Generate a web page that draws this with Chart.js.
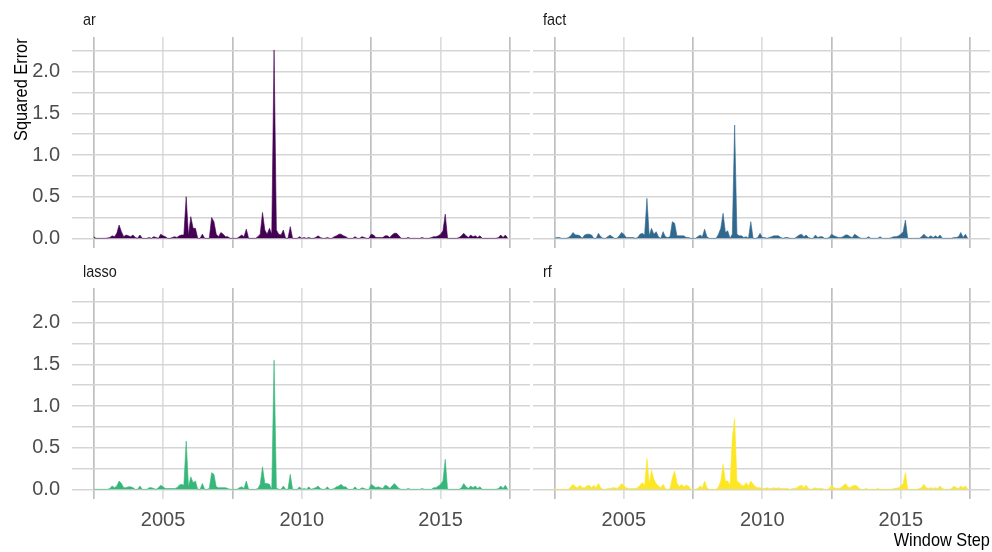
<!DOCTYPE html>
<html>
<head>
<meta charset="utf-8">
<script src="https://cdn.jsdelivr.net/npm/chart.js@4/dist/chart.umd.min.js"></script>
<style>
  html, body { margin: 0; padding: 0; background: #ffffff; }
  #wrap { position: relative; width: 992px; height: 552px; overflow: hidden; background: #ffffff; }
  #wrap canvas { position: absolute; left: 0; top: 0; }
  .lbl { position: absolute; white-space: nowrap; font-family: 'Liberation Sans', Arial, sans-serif; }
  .strip { font-size: 17px; line-height: 17px; color: #1a1a1a; transform-origin: 0 0; transform: scaleX(0.85); }
  .axtitle { font-size: 19px; line-height: 19px; color: #000000; }
</style>
</head>
<body>
<div id="wrap">
  <canvas id="c-ar" width="992" height="552"></canvas>
  <canvas id="c-fact" width="992" height="552"></canvas>
  <canvas id="c-lasso" width="992" height="552"></canvas>
  <canvas id="c-rf" width="992" height="552"></canvas>
  <div class="lbl strip" style="left:83px; top:11px;">ar</div>
  <div class="lbl strip" style="left:543px; top:11px;">fact</div>
  <div class="lbl strip" style="left:83px; top:263px;">lasso</div>
  <div class="lbl strip" style="left:543px; top:263px;">rf</div>
  <div class="lbl axtitle" style="left:11px; top:141px; transform-origin:0 0; transform:rotate(-90deg) scaleX(0.86);">Squared Error</div>
  <div class="lbl axtitle" style="right:2px; top:530px; transform-origin:100% 0; transform:scaleX(0.86);">Window Step</div>
</div>
<script>
// Monthly window steps, starting July 2002
const firstStep = 2002.5;
const stepCount = 180;
const windowSteps = Array.from({ length: stepCount }, (_, i) => firstStep + i / 12);

// Axis breaks
const xBreaks = [2002.5, 2005, 2007.5, 2010, 2012.5, 2015, 2017.5];
const xLabelled = [2005, 2010, 2015];
const yBreaks = [0, 0.25, 0.5, 0.75, 1, 1.25, 1.5, 1.75, 2, 2.25];
const yLabelled = [0, 0.5, 1, 1.5, 2];

// Squared forecast error per model
const arErr = [
  0.02, 0, 0, 0, 0, 0, 0.005, 0.01, 0.03, 0.02,
  0.06, 0.16, 0.08, 0.02, 0.04, 0.03, 0.02, 0.04, 0.01, 0,
  0.04, 0, 0, 0, 0.01, 0, 0.02, 0.01, 0, 0.05,
  0.03, 0.02, 0, 0, 0.01, 0.02, 0.01, 0.03, 0.04, 0.04,
  0.5, 0.03, 0.26, 0.12, 0.12, 0, 0, 0.05, 0, 0,
  0, 0.25, 0.2, 0.05, 0.02, 0.07, 0.05, 0.02, 0.02, 0,
  0, 0, 0, 0.02, 0.04, 0.02, 0.11, 0, 0, 0,
  0, 0.02, 0.05, 0.31, 0.1, 0.05, 0.12, 0.05, 2.26, 0.1,
  0.05, 0.04, 0.1, 0, 0, 0.14, 0, 0, 0, 0.02,
  0, 0.01, 0, 0.01, 0, 0, 0.01, 0.03, 0.01, 0,
  0, 0.01, 0, 0, 0.02, 0.03, 0.05, 0.05, 0.03, 0.02,
  0, 0, 0, 0.02, 0, 0, 0.02, 0.01, 0, 0,
  0.05, 0.04, 0.01, 0.01, 0.01, 0.01, 0.03, 0.03, 0.01, 0.04,
  0.06, 0.06, 0.03, 0, 0, 0, 0.01, 0, 0, 0,
  0, 0, 0.01, 0, 0, 0, 0.01, 0.02, 0.02, 0.03,
  0.05, 0.09, 0.29, 0, 0, 0, 0, 0, 0.01, 0.03,
  0.06, 0.03, 0.01, 0.04, 0.02, 0.03, 0.01, 0.03, 0, 0,
  0, 0, 0, 0, 0, 0.01, 0.04, 0.01, 0.04, 0
];
const factErr = [
  0, 0.01, 0.01, 0, 0, 0, 0.01, 0.03, 0.07, 0.04,
  0.04, 0.03, 0, 0.04, 0.05, 0.05, 0.04, 0, 0, 0.06,
  0.02, 0, 0, 0.02, 0.04, 0.02, 0, 0, 0.03, 0.07,
  0.05, 0.01, 0.01, 0.01, 0.01, 0, 0.01, 0.05, 0.06, 0.04,
  0.48, 0.03, 0.12, 0.05, 0.08, 0.02, 0, 0.08, 0.02, 0.01,
  0.02, 0.2, 0.18, 0.03, 0.03, 0.03, 0.03, 0.01, 0.01, 0,
  0, 0, 0.02, 0.04, 0.02, 0.11, 0.02, 0, 0, 0,
  0, 0.05, 0.12, 0.3, 0.07, 0.09, 0, 0.05, 1.36, 0.05,
  0.03, 0.03, 0.01, 0.02, 0, 0.2, 0, 0, 0.01, 0.06,
  0.01, 0.01, 0, 0.01, 0.02, 0.03, 0.03, 0.03, 0.01, 0,
  0.01, 0.01, 0, 0, 0, 0.02, 0.04, 0.05, 0.02, 0.04,
  0.01, 0, 0, 0.04, 0.01, 0.02, 0.02, 0, 0, 0.01,
  0.05, 0.03, 0.02, 0.01, 0.01, 0.02, 0.04, 0.04, 0.02, 0.01,
  0.05, 0.03, 0.01, 0, 0, 0, 0.02, 0, 0, 0,
  0, 0.02, 0, 0, 0, 0, 0.01, 0.02, 0.02, 0.03,
  0.05, 0.08, 0.22, 0, 0, 0, 0, 0, 0, 0.02,
  0.05, 0.02, 0.01, 0.03, 0.01, 0.03, 0.01, 0.04, 0, 0,
  0, 0, 0, 0.01, 0.01, 0.02, 0.07, 0.01, 0.05, 0
];
const lassoErr = [
  0, 0, 0, 0, 0, 0, 0, 0.01, 0.04, 0.02,
  0.04, 0.1, 0.07, 0.02, 0.02, 0.03, 0.03, 0.02, 0, 0,
  0.04, 0, 0, 0, 0.02, 0.02, 0.01, 0, 0.02, 0.05,
  0.03, 0.01, 0.01, 0.01, 0.01, 0.01, 0.02, 0.05, 0.06, 0.05,
  0.58, 0.03, 0.15, 0.08, 0.1, 0, 0, 0.07, 0, 0,
  0.01, 0.2, 0.18, 0.03, 0.02, 0.02, 0.02, 0.02, 0.01, 0,
  0, 0, 0, 0.02, 0.03, 0.01, 0.1, 0, 0, 0,
  0, 0.01, 0.06, 0.27, 0.07, 0.07, 0.06, 0, 1.55, 0.02,
  0, 0, 0.04, 0, 0, 0.18, 0, 0, 0, 0.03,
  0, 0.01, 0, 0.03, 0, 0.01, 0.02, 0.04, 0.01, 0,
  0, 0.03, 0, 0, 0.01, 0.03, 0.04, 0.06, 0.03, 0.03,
  0, 0, 0, 0.03, 0, 0, 0.02, 0.01, 0, 0,
  0.06, 0.04, 0.02, 0.03, 0.02, 0.01, 0.05, 0.04, 0.01, 0.04,
  0.07, 0.04, 0.01, 0, 0, 0, 0.01, 0, 0, 0,
  0, 0, 0.01, 0, 0, 0, 0, 0.02, 0.02, 0.04,
  0.06, 0.1, 0.36, 0, 0, 0, 0, 0, 0, 0.02,
  0.07, 0.03, 0.01, 0.04, 0.02, 0.04, 0.01, 0.03, 0, 0,
  0, 0, 0, 0, 0, 0.01, 0.04, 0.01, 0.05, 0
];
const rfErr = [
  0.01, 0, 0, 0, 0, 0, 0, 0.03, 0.06, 0.03,
  0.02, 0.05, 0.02, 0.02, 0.04, 0.05, 0.02, 0.05, 0.02, 0.07,
  0.02, 0, 0, 0.01, 0.01, 0.02, 0.02, 0.01, 0.03, 0.07,
  0.04, 0.02, 0.01, 0.01, 0.01, 0.01, 0.02, 0.05, 0.08, 0.04,
  0.37, 0.07, 0.23, 0.12, 0.07, 0.04, 0.02, 0.06, 0.01, 0,
  0.01, 0.14, 0.22, 0.08, 0.03, 0.06, 0.03, 0.05, 0.04, 0,
  0, 0, 0.01, 0.04, 0.02, 0.1, 0.02, 0, 0, 0,
  0, 0.03, 0.1, 0.3, 0.1, 0.1, 0.05, 0.62, 0.85, 0.1,
  0.08, 0.05, 0.04, 0.08, 0.04, 0.1, 0.06, 0.03, 0.02, 0.02,
  0.01, 0.01, 0.02, 0.01, 0.01, 0.02, 0.01, 0.02, 0.01, 0.01,
  0.01, 0.01, 0, 0.01, 0.01, 0.02, 0.04, 0.05, 0.02, 0.05,
  0.01, 0, 0.01, 0.02, 0.01, 0.01, 0.01, 0, 0, 0.01,
  0.05, 0.02, 0.01, 0.01, 0.02, 0.04, 0.07, 0.03, 0.02, 0.04,
  0.05, 0.04, 0.01, 0, 0, 0.01, 0, 0, 0, 0,
  0.01, 0, 0, 0, 0, 0, 0, 0.01, 0.01, 0.02,
  0.04, 0.07, 0.2, 0, 0, 0, 0, 0, 0.01, 0.02,
  0.06, 0.02, 0.01, 0.02, 0.01, 0.02, 0.01, 0.04, 0.01, 0,
  0, 0, 0.01, 0.04, 0.02, 0.01, 0.04, 0.02, 0.04, 0
];

const FONT = "'Liberation Sans', Arial, sans-serif";
const GRID_H = '#d5d5d5';
const GRID_V_MAJOR = '#dddddd';
const GRID_V_MINOR = '#bfbfbf';

function makePanel(canvasId, values, color, opts) {
  const ctx = document.getElementById(canvasId).getContext('2d');
  return new Chart(ctx, {
    type: 'line',
    data: {
      datasets: [{
        data: values.map((v, i) => ({ x: windowSteps[i], y: v })),
        backgroundColor: color,
        borderColor: color,
        borderWidth: 0.6,
        pointRadius: 0,
        tension: 0,
        fill: 'origin'
      }]
    },
    options: {
      responsive: false,
      devicePixelRatio: 1,
      animation: false,
      events: [],
      layout: { padding: opts.padding },
      plugins: { legend: { display: false }, tooltip: { enabled: false }, title: { display: false } },
      scales: {
        x: {
          type: 'linear',
          min: 2001.72,
          max: 2018.22,
          border: { display: false },
          grid: {
            drawTicks: false,
            lineWidth: 1.7,
            color: (c) => (c.tick && c.tick.value % 5 === 0) ? GRID_V_MAJOR : GRID_V_MINOR
          },
          afterBuildTicks: (s) => { s.ticks = xBreaks.map(v => ({ value: v })); },
          afterFit: (s) => { s.height = opts.showX ? 30 : 0; },
          ticks: {
            display: opts.showX,
            padding: 9,
            maxRotation: 0,
            autoSkip: false,
            color: '#4d4d4d',
            font: { family: FONT, size: 20 },
            callback: (v) => xLabelled.includes(v) ? String(v) : ''
          }
        },
        y: {
          type: 'linear',
          min: -0.116,
          max: 2.416,
          border: { display: false },
          grid: { drawTicks: false, lineWidth: 1.5, color: GRID_H },
          afterBuildTicks: (s) => { s.ticks = yBreaks.map(v => ({ value: v })); },
          afterFit: (s) => { s.width = opts.showY ? 72 : 0; },
          ticks: {
            display: opts.showY,
            padding: 12,
            autoSkip: false,
            color: '#4d4d4d',
            font: { family: FONT, size: 20 },
            callback: (v) => yLabelled.includes(v) ? v.toFixed(1) : ''
          }
        }
      }
    }
  });
}

makePanel('c-ar', arErr, '#440154', { padding: { left: 0, right: 462, top: 37, bottom: 304 }, showX: false, showY: true });
makePanel('c-fact', factErr, '#31688e', { padding: { left: 533, right: 2, top: 37, bottom: 304 }, showX: false, showY: false });
makePanel('c-lasso', lassoErr, '#35b779', { padding: { left: 0, right: 462, top: 288, bottom: 23 }, showX: true, showY: true });
makePanel('c-rf', rfErr, '#fde725', { padding: { left: 533, right: 2, top: 288, bottom: 23 }, showX: true, showY: false });
</script>
</body>
</html>
